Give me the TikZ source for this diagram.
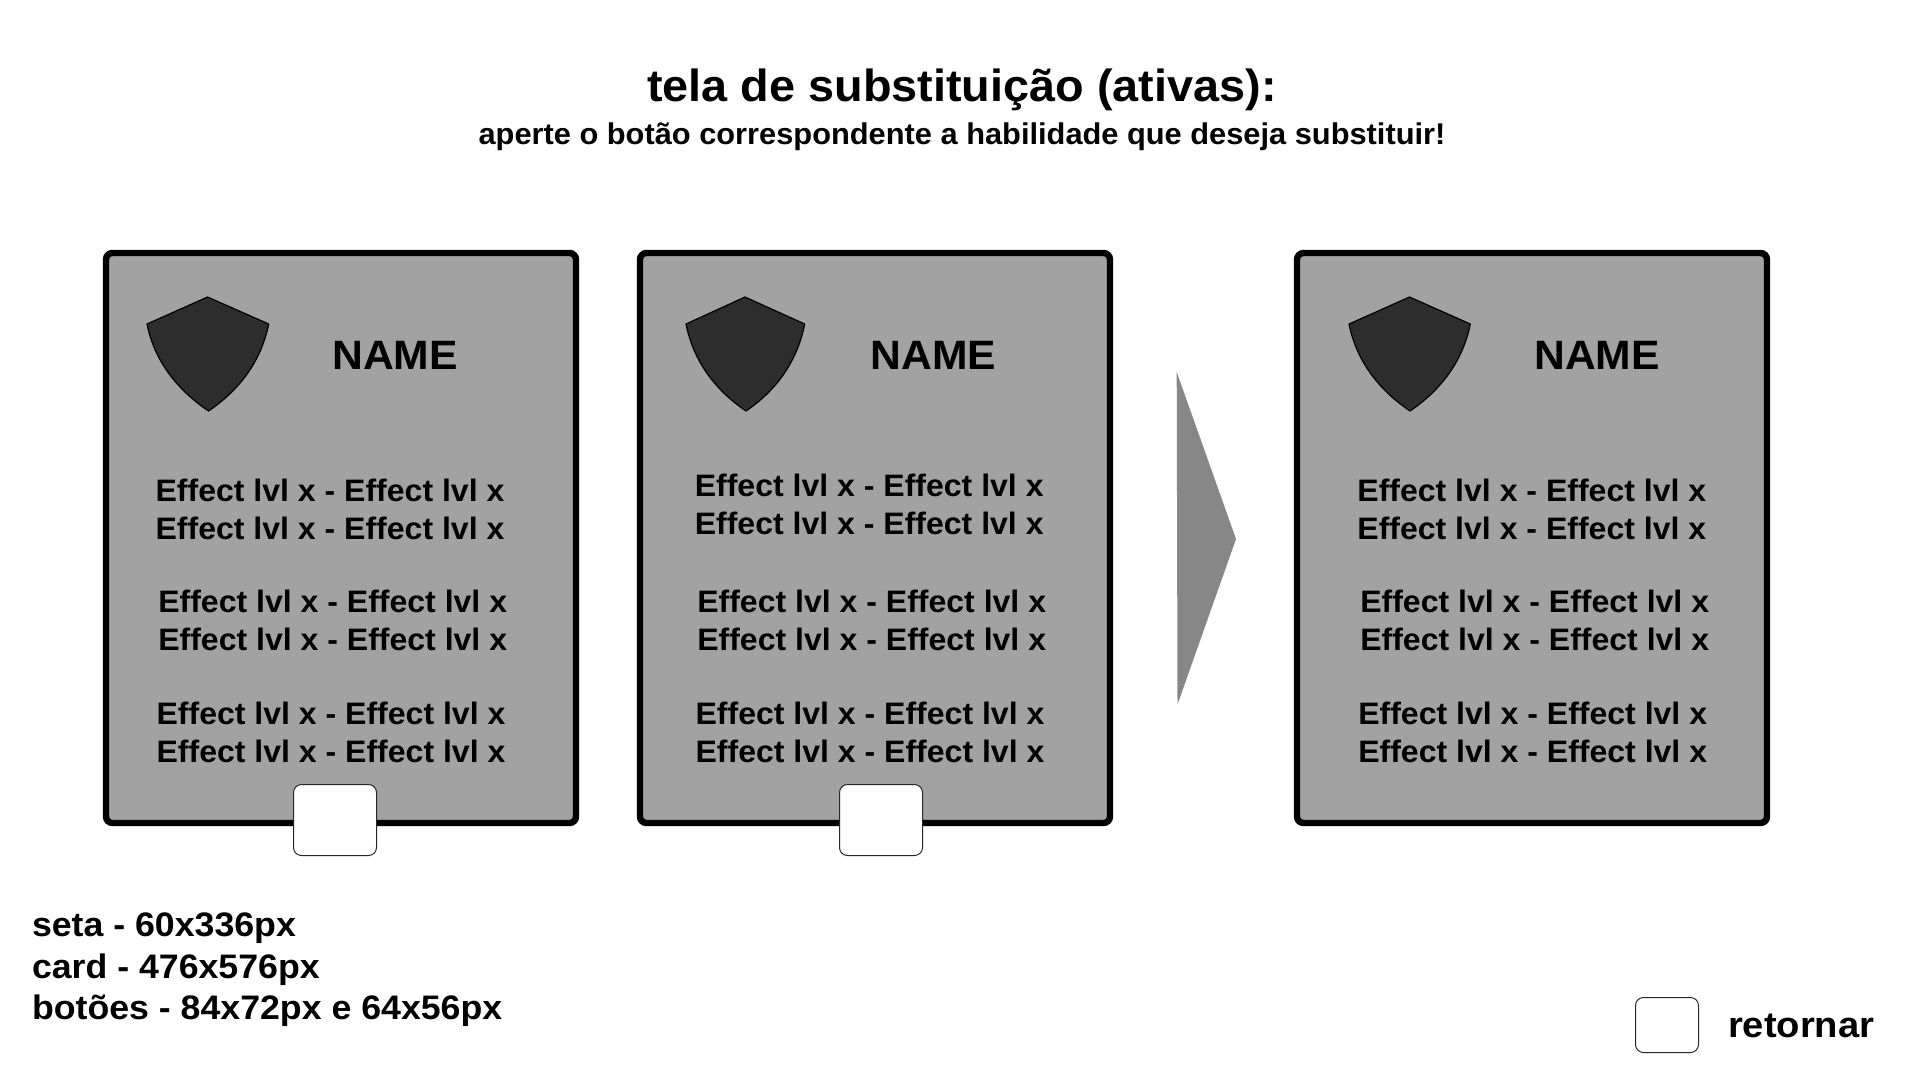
\documentclass[tikz,border=0pt]{standalone}
\usepackage{fontspec}
\setmainfont{Liberation Sans}[BoldFont={Liberation Sans Bold}]
\definecolor{cardgray}{HTML}{A2A2A2}
\definecolor{arrowgray}{HTML}{878787}
\definecolor{shieldgray}{HTML}{2D2D2D}
\newcommand{\fsz}[2]{\bfseries\fontsize{#1}{#1}\selectfont\addfontfeature{FakeStretch=#2}}
\tikzset{
  every node/.style={inner sep=0pt,outer sep=0pt},
  cardbox/.style={draw=black,fill=cardgray,line width=6.4pt,rounded corners=6.5pt,minimum width=470pt,minimum height=570pt,anchor=north west},
  btn/.style={draw=black!85,fill=white,line width=1pt,rounded corners=8pt,anchor=north west},
  shieldshape/.style={draw=black,fill=shieldgray,line width=1.2pt,line join=round},
  namelabel/.style={anchor=base,font=\fsz{41}{1.04}},
  effectlabel/.style={anchor=base,yshift=-0.5pt,font=\fsz{31}{1.033}},
  legendlabel/.style={anchor=base west,font=\fsz{34}{1.05}},
}
% #1 id, #2 card left, #3 shield left, #4 shield top x, #5 shield right, #6 shield bottom x, #7 NAME centre
\newcommand{\cardbase}[7]{%
  \node[cardbox] (#1) at (#2+3,253) {};
  \draw[shieldshape] (#3,324) -- (#4,297) -- (#5,324)
     .. controls (#5-8,364) and (#6+28,392) .. (#6,411)
     .. controls (#6-28,392) and (#3+8,364) .. cycle;
  \node[namelabel] (#1name) at (#7,369) {NAME};
}
% #1 id, #2 centre x, #3 baseline 1, #4 baseline 2
\newcommand{\effectpair}[4]{%
  \node[effectlabel] (#1a) at (#2,#3) {Effect lvl x - Effect lvl x};
  \node[effectlabel] (#1b) at (#2,#4) {Effect lvl x - Effect lvl x};
}
\begin{document}
\begin{tikzpicture}[x=1pt,y=-1pt]
\useasboundingbox (0,0) rectangle (1920,1080);
\fill[white] (0,0) rectangle (1920,1080);
\node[anchor=base,font=\fsz{45}{1.04}] (title) at (962,101) {tela de substituição (ativas):};
\node[anchor=base,font=\fsz{30}{1.0265}] (subtitle) at (962,144) {aperte o botão correspondente a habilidade que deseja substituir!};
% card 1
\cardbase{c1}{103}{147}{207.5}{268.7}{208.5}{395}
\effectpair{c1e1}{330}{501}{539}
\effectpair{c1e2}{332.7}{612}{650}
\effectpair{c1e3}{331}{724.3}{762.3}
\node[btn,minimum width=83pt,minimum height=71pt] (b1) at (293.5,784.5) {};
% card 2
\cardbase{c2}{637}{686}{745}{804.7}{746}{933.5}
\effectpair{c2e1}{869.2}{496}{534}
\effectpair{c2e2}{871.7}{612}{650}
\effectpair{c2e3}{870}{724.3}{762.3}
\node[btn,minimum width=83pt,minimum height=71pt] (b2) at (839.5,784.5) {};
% arrow
\fill[arrowgray] (1176.7,372) -- (1236,539) -- (1177.5,704.5) -- cycle;
% card 3
\cardbase{c3}{1294}{1349}{1409.5}{1470.3}{1410}{1597}
\effectpair{c3e1}{1531.8}{501}{539}
\effectpair{c3e2}{1534.7}{612}{650}
\effectpair{c3e3}{1532.7}{724.3}{762.3}
% legend
\node[legendlabel] (l1) at (32,936) {seta - 60x336px};
\node[legendlabel] (l2) at (32,978) {card - 476x576px};
\node[legendlabel] (l3) at (32,1019) {botões - 84x72px e 64x56px};
% return
\node[btn,minimum width=63pt,minimum height=55pt] (b3) at (1635.5,997.5) {};
\node[anchor=base west,font=\fsz{36}{1.06}] (ret) at (1728,1037) {retornar};
\end{tikzpicture}
\end{document}
